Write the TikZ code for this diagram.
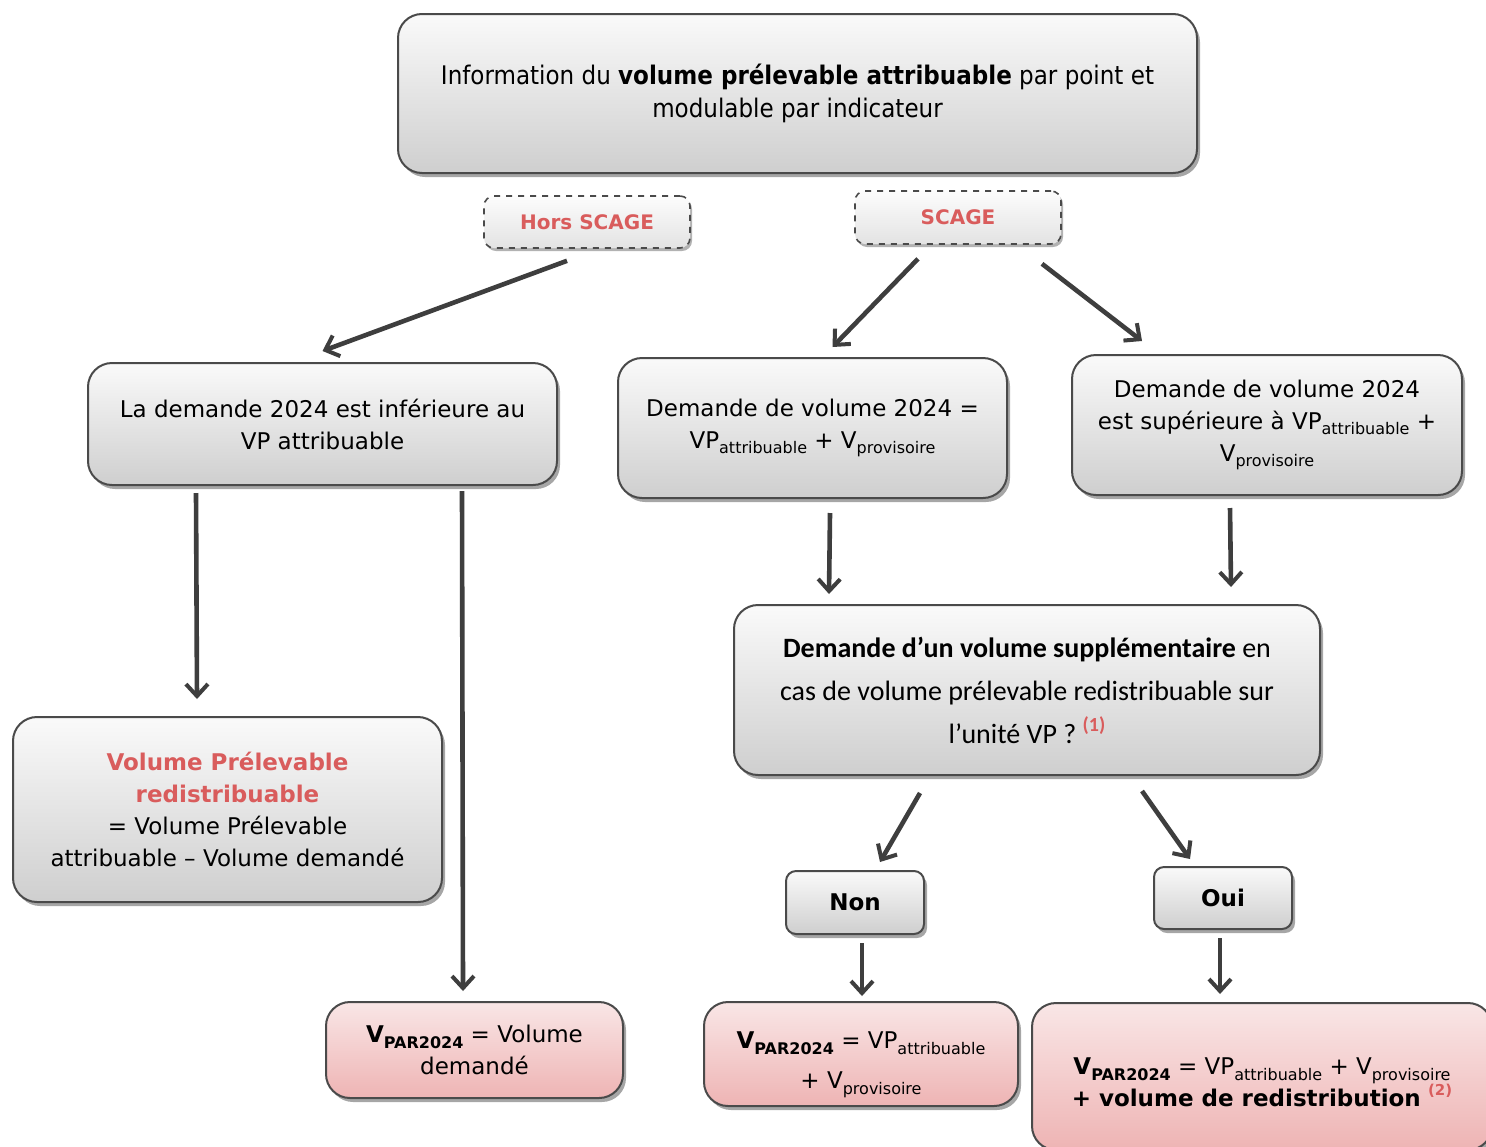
\documentclass[tikz,border=0pt]{standalone}
\usepackage{fontspec}
\setmainfont{DejaVu Sans}
\newfontfamily\calib{Carlito}
\newfontfamily\condf[FakeStretch=0.9]{DejaVu Sans}
\usetikzlibrary{arrows.meta,shadows,calc}
\definecolor{redtxt}{HTML}{D95C5C}
\definecolor{edge}{HTML}{4A4A4A}
\definecolor{arrc}{HTML}{3E3E3E}
\definecolor{pinktop}{HTML}{F9E6E6}
\definecolor{pinkbot}{HTML}{EEB4B4}
\newcommand\lowtxt[1]{\raisebox{-0.45ex}{\fontsize{8}{8}\selectfont #1}}
\newcommand\vpar{\textbf{V}\lowtxt{\textbf{PAR2024}}}
\tikzset{
  graybox/.style={draw=edge, line width=1pt, rounded corners=12pt, top color=gray!4, bottom color=gray!38,
    drop shadow={shadow xshift=1.5pt, shadow yshift=-2pt, opacity=0.35, fill=black},
    align=center, inner sep=0pt, font=\fontsize{11.5}{16}\selectfont},
  pinkbox/.style={graybox, top color=pinktop, bottom color=pinkbot},
  dashbox/.style={draw=edge, line width=0.8pt, dashed, rounded corners=5pt, top color=gray!2, bottom color=gray!22,
    drop shadow={shadow xshift=1pt, shadow yshift=-1.5pt, opacity=0.3, fill=black},
    align=center, inner sep=0pt, font=\fontsize{10}{12}\selectfont\bfseries, text=redtxt},
  smallbox/.style={graybox, rounded corners=5pt, font=\fontsize{11.5}{13}\selectfont\bfseries},
  arr/.style={draw=arrc, line width=2.3pt, -{Straight Barb[length=6pt, width=11pt, line width=2pt]}}
}
\begin{document}
\begin{tikzpicture}[x=0.5pt, y=-0.5pt]
\useasboundingbox[fill=white] (0,0) rectangle (1486,1146);

\node[graybox, minimum width=399.5pt, minimum height=79.5pt, font=\condf\fontsize{12.8}{16.5}\selectfont] (top) at (797.5,93.5)
  {Information du \textbf{volume prélevable attribuable} par point et\\modulable par indicateur};

\node[dashbox, minimum width=103pt, minimum height=26pt] (hors) at (587,222) {Hors SCAGE};
\node[dashbox, minimum width=103pt, minimum height=26.5pt] (scage) at (958,217.5) {SCAGE};

\node[graybox, minimum width=234.5pt, minimum height=61pt] (A) at (322.5,424)
  {La demande 2024 est inférieure au\\VP attribuable};
\node[graybox, minimum width=194.5pt, minimum height=70pt] (B) at (812.5,428)
  {Demande de volume 2024 =\\VP\lowtxt{attribuable} + V\lowtxt{provisoire}};
\node[graybox, minimum width=195pt, minimum height=70pt] (C) at (1267,425)
  {Demande de volume 2024\\est supérieure à VP\lowtxt{attribuable} +\\V\lowtxt{provisoire}};

\node[graybox, minimum width=293pt, minimum height=85pt, font=\calib\fontsize{14}{21.5}\selectfont] (D) at (1027,690)
  {\textbf{Demande d’un volume supplémentaire} en\\cas de volume prélevable redistribuable sur\\l’unité VP ? \raisebox{0.9ex}{\fontsize{10}{10}\selectfont\textbf{\textcolor{redtxt}{(1)}}}};

\node[graybox, minimum width=214.5pt, minimum height=92.5pt] (E) at (227.5,809.5)
  {\textcolor{redtxt}{\textbf{Volume Prélevable}}\\\textcolor{redtxt}{\textbf{redistribuable}}\\= Volume Prélevable\\attribuable – Volume demandé};

\node[smallbox, minimum width=69pt, minimum height=31.5pt] (non) at (855,902.5) {Non};
\node[smallbox, minimum width=69pt, minimum height=31pt] (oui) at (1223,898) {Oui};

\node[pinkbox, minimum width=148.5pt, minimum height=48pt] (F) at (474.5,1050)
  {\vpar{} = Volume\\demandé};
\node[pinkbox, minimum width=157pt, minimum height=52pt, font=\fontsize{11.5}{20}\selectfont] (G) at (861,1054)
  {\rule{0pt}{19pt}\vpar{} = VP\lowtxt{attribuable}\\+ V\lowtxt{provisoire}};
\node[pinkbox, minimum width=230pt, minimum height=73.5pt, font=\fontsize{11.5}{16}\selectfont] (H) at (1262,1076.5)
  {\rule{0pt}{14pt}\vpar{} = VP\lowtxt{attribuable} + V\lowtxt{provisoire}\\\textbf{+ volume de redistribution} \raisebox{0.9ex}{\fontsize{7.5}{7.5}\selectfont\textbf{\textcolor{redtxt}{(2)}}}};

\draw[arr] ($(hors.south)+(-20,12)$) -- ($(A.north)+(0,-11)$);
\draw[arr] ($(scage.south)+(-40,14)$) -- ($(B.north)+(20,-10)$);
\draw[arr] ($(scage.south)+(84,19)$) -- ($(C.north west)+(71,-13)$);
\draw[arr] ($(A.south west)+(109,7)$) -- ($(E.north west)+(185,-17)$);
\draw[arr] ($(A.south east)+(-96,5)$) -- ($(F.north west)+(138,-10)$);
\draw[arr] ($(B.south)+(17.5,14)$) -- ($(D.north west)+(96,-10)$);
\draw[arr] ($(C.south)+(-37,12)$) -- ($(D.north east)+(-90,-17)$);
\draw[arr] ($(D.south)+(-107,17)$) -- ($(non.north)+(25,-8)$);
\draw[arr] ($(D.south)+(115,15)$) -- ($(oui.north)+(-33,-7)$);
\draw[arr] ($(non.south)+(7,8)$) -- ($(G.north)+(1,-5)$);
\draw[arr] ($(oui.south)+(-3,8)$) -- ($(H.north)+(-42,-8)$);
\end{tikzpicture}
\end{document}
